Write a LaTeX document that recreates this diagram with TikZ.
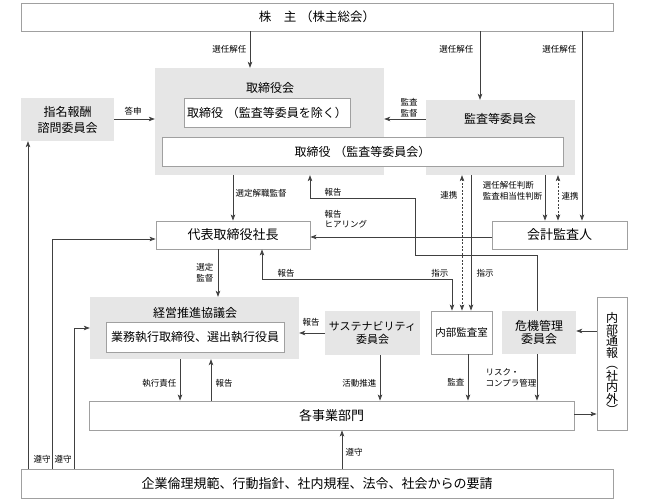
\documentclass[tikz,border=0pt]{standalone}
\usepackage{fontspec}
\setmainfont{Noto Sans CJK JP}
\usetikzlibrary{arrows.meta}
\definecolor{areagray}{HTML}{E6E6E6}
\definecolor{boxline}{HTML}{A0A0A0}
\definecolor{lineclr}{HTML}{404040}

\begin{document}
\begin{tikzpicture}[x=1pt,y=-1pt,
	>={Stealth[length=6pt,width=4.5pt,inset=1.5pt]},
	wbox/.style={draw=boxline,fill=white,line width=0.9pt,inner sep=0pt,align=center,font=\fontsize{12}{14}\selectfont},
	garea/.style={fill=areagray,inner sep=0pt,align=center,font=\fontsize{12}{13.5}\selectfont},
	ttl/.style={inner sep=0pt,font=\fontsize{12}{14}\selectfont},
	lbl/.style={inner sep=0.5pt,align=left,font=\fontsize{8.5}{10.5}\selectfont},
	conn/.style={->,draw=lineclr,line width=0.6pt},
	twoway/.style={<->,draw=lineclr,line width=0.6pt},
	dots/.style={dash pattern=on 2pt off 1.5pt}]
	\useasboundingbox (0,0) rectangle (645,502);
	% shareholders
	\node[wbox,minimum width=592,minimum height=28,font=\fontsize{12.5}{14}\selectfont] (kabu) at (317,17) {株\hspace{1em}主\hspace{0.3em}（株主総会）};
	% board and audit committee
	\node[garea,minimum width=229,minimum height=107] (tk) at (269.5,121.5) {};
	\node[ttl] (tkTitle) at (270,88) {取締役会};
	\node[wbox,minimum width=166,minimum height=29] (tkInner) at (267,112.5) {取締役\hspace{0.3em}（監査等委員を除く）};
	\node[garea,minimum width=149,minimum height=75] (kt) at (500.5,137.5) {};
	\node[ttl] (ktTitle) at (500,119) {監査等委員会};
	\node[wbox,minimum width=401,minimum height=29] (ktInner) at (362.5,151.5) {取締役\hspace{0.3em}（監査等委員会）};
	\node[garea,minimum width=93,minimum height=43,font=\fontsize{12}{16}\selectfont] (shimei) at (67.5,119.5) {指名報酬\\諮問委員会};
	% executives
	\node[wbox,minimum width=154,minimum height=28,font=\fontsize{13}{15}\selectfont] (daihyo) at (233,235) {代表取締役社長};
	\node[wbox,minimum width=135,minimum height=28,font=\fontsize{13}{15}\selectfont] (kaikei) at (559.5,235) {会計監査人};
	\node[garea,minimum width=209,minimum height=62] (keiei) at (194.5,328) {};
	\node[ttl] (keieiTitle) at (195,313) {経営推進協議会};
	\node[wbox,minimum width=178,minimum height=30] (keieiInner) at (195,337) {業務執行取締役、選出執行役員};
	\node[garea,minimum width=95,minimum height=44,font=\fontsize{11}{13}\selectfont] (sustain) at (372.5,333) {サステナビリティ\\委員会};
	\node[wbox,minimum width=61,minimum height=43,font=\fontsize{10.5}{12}\selectfont] (naibu) at (461.5,332.5) {内部監査室};
	\node[garea,minimum width=74,minimum height=43] (kiki) at (539,332.5) {危機管理\\委員会};
	\node[wbox,minimum width=30,minimum height=133,font=\fontsize{12}{11.5}\selectfont] (tsuho) at (612,363.5) {内\\部\\通\\報\\︵\\社\\内\\外\\︶};
	% business units and rules
	\node[wbox,minimum width=485,minimum height=29,font=\fontsize{13}{15}\selectfont] (jigyo) at (331.5,415.5) {各事業部門};
	\node[wbox,minimum width=592,minimum height=29,font=\fontsize{13}{15}\selectfont] (rinri) at (317,483.5) {企業倫理規範、行動指針、社内規程、法令、社会からの要請};
	% arrows
	\draw[conn] (kabu.south -| 250,0) -- (tk.north -| 250,0);
	\draw[conn] (kabu.south -| 480,0) -- (kt.north -| 480,0);
	\draw[conn] (kabu.south -| 582,0) -- (kaikei.north -| 582,0);
	\draw[conn] (shimei.east |- 0,119) -- (tk.west |- 0,119);
	\draw[conn] (kt.west |- 0,119) -- (tk.east |- 0,119);
	\draw[conn] (tk.south -| 233,0) -- (daihyo.north -| 233,0);
	\draw[conn] (kt.south -| 471,0) -- (naibu.north -| 471,0);
	\draw[twoway,dots] (kt.south -| 462,0) -- (naibu.north -| 462,0);
	\draw[conn] (kt.south -| 545,0) -- (kaikei.north -| 545,0);
	\draw[twoway,dots] (kt.south -| 558,0) -- (kaikei.north -| 558,0);
	\draw[conn] (kaikei.west |- 0,237) -- (daihyo.east |- 0,237);
	\draw[conn] (kiki.north -| 537,0) -- (537,255) -- (415,255) -- (415,198) -- (310,198) -- (tk.south -| 310,0);
	\draw[twoway] (daihyo.south -| 262,0) -- (262,279) -- (452,279) -- (naibu.north -| 452,0);
	\draw[conn] (daihyo.south -| 218,0) -- (keiei.north -| 218,0);
	\draw[conn] (sustain.west |- 0,333) -- (keiei.east |- 0,333);
	\draw[conn] (sustain.south -| 380,0) -- (jigyo.north -| 380,0);
	\draw[conn] (naibu.south -| 468,0) -- (jigyo.north -| 468,0);
	\draw[conn] (kiki.south -| 537,0) -- (jigyo.north -| 537,0);
	\draw[conn] (tsuho.west |- 0,331) -- (kiki.east |- 0,331);
	\draw[conn] (jigyo.east |- 0,414) -- (tsuho.west |- 0,414);
	\draw[conn] (keiei.south -| 180,0) -- (jigyo.north -| 180,0);
	\draw[conn] (jigyo.north -| 211,0) -- (keiei.south -| 211,0);
	\draw[conn] (rinri.north -| 342,0) -- (jigyo.south -| 342,0);
	\draw[conn] (rinri.north -| 28,0) -- (shimei.south -| 28,0);
	\draw[conn] (rinri.north -| 52,0) |- (daihyo.west |- 0,239);
	\draw[conn] (rinri.north -| 74,0) |- (keiei.west);
	% labels
	\node[lbl,anchor=east] (lSen1) at (247,49) {選任解任};
	\node[lbl,anchor=east] (lSen2) at (474,49) {選任解任};
	\node[lbl,anchor=east] (lSen3) at (577,49) {選任解任};
	\node[lbl] (lToshin) at (133,111) {答申};
	\node[lbl] (lKansa1) at (409,108) {監査\\監督};
	\node[lbl,anchor=west] (lSentei1) at (235,193) {選定解職監督};
	\node[lbl,anchor=west] (lHoko1) at (324,192) {報告};
	\node[lbl,anchor=west] (lHoko2) at (324,219) {報告\\ヒアリング};
	\node[lbl,anchor=east] (lRenkei1) at (458,195) {連携};
	\node[lbl,anchor=east] (lHandan) at (543,191) {選任解任判断\\監査相当性判断};
	\node[lbl,anchor=west] (lRenkei2) at (561,196) {連携};
	\node[lbl,anchor=east] (lSentei2) at (214,273) {選定\\監督};
	\node[lbl,anchor=west] (lHoko3) at (277,273) {報告};
	\node[lbl,anchor=east] (lShiji1) at (449,273) {指示};
	\node[lbl,anchor=west] (lShiji2) at (476,273) {指示};
	\node[lbl] (lHoko4) at (311,322) {報告};
	\node[lbl,anchor=east] (lShikko) at (177,383) {執行責任};
	\node[lbl,anchor=west] (lHoko5) at (215,383) {報告};
	\node[lbl,anchor=east] (lKatsudo) at (377,383) {活動推進};
	\node[lbl,anchor=east] (lKansa2) at (465,382) {監査};
	\node[lbl,anchor=east] (lRisk) at (537,378) {リスク・\\コンプラ管理};
	\node[lbl,anchor=west] (lJun1) at (345,452) {遵守};
	\node[lbl,anchor=west] (lJun2) at (33,459) {遵守};
	\node[lbl,anchor=west] (lJun3) at (54,459) {遵守};
\end{tikzpicture}
\end{document}
